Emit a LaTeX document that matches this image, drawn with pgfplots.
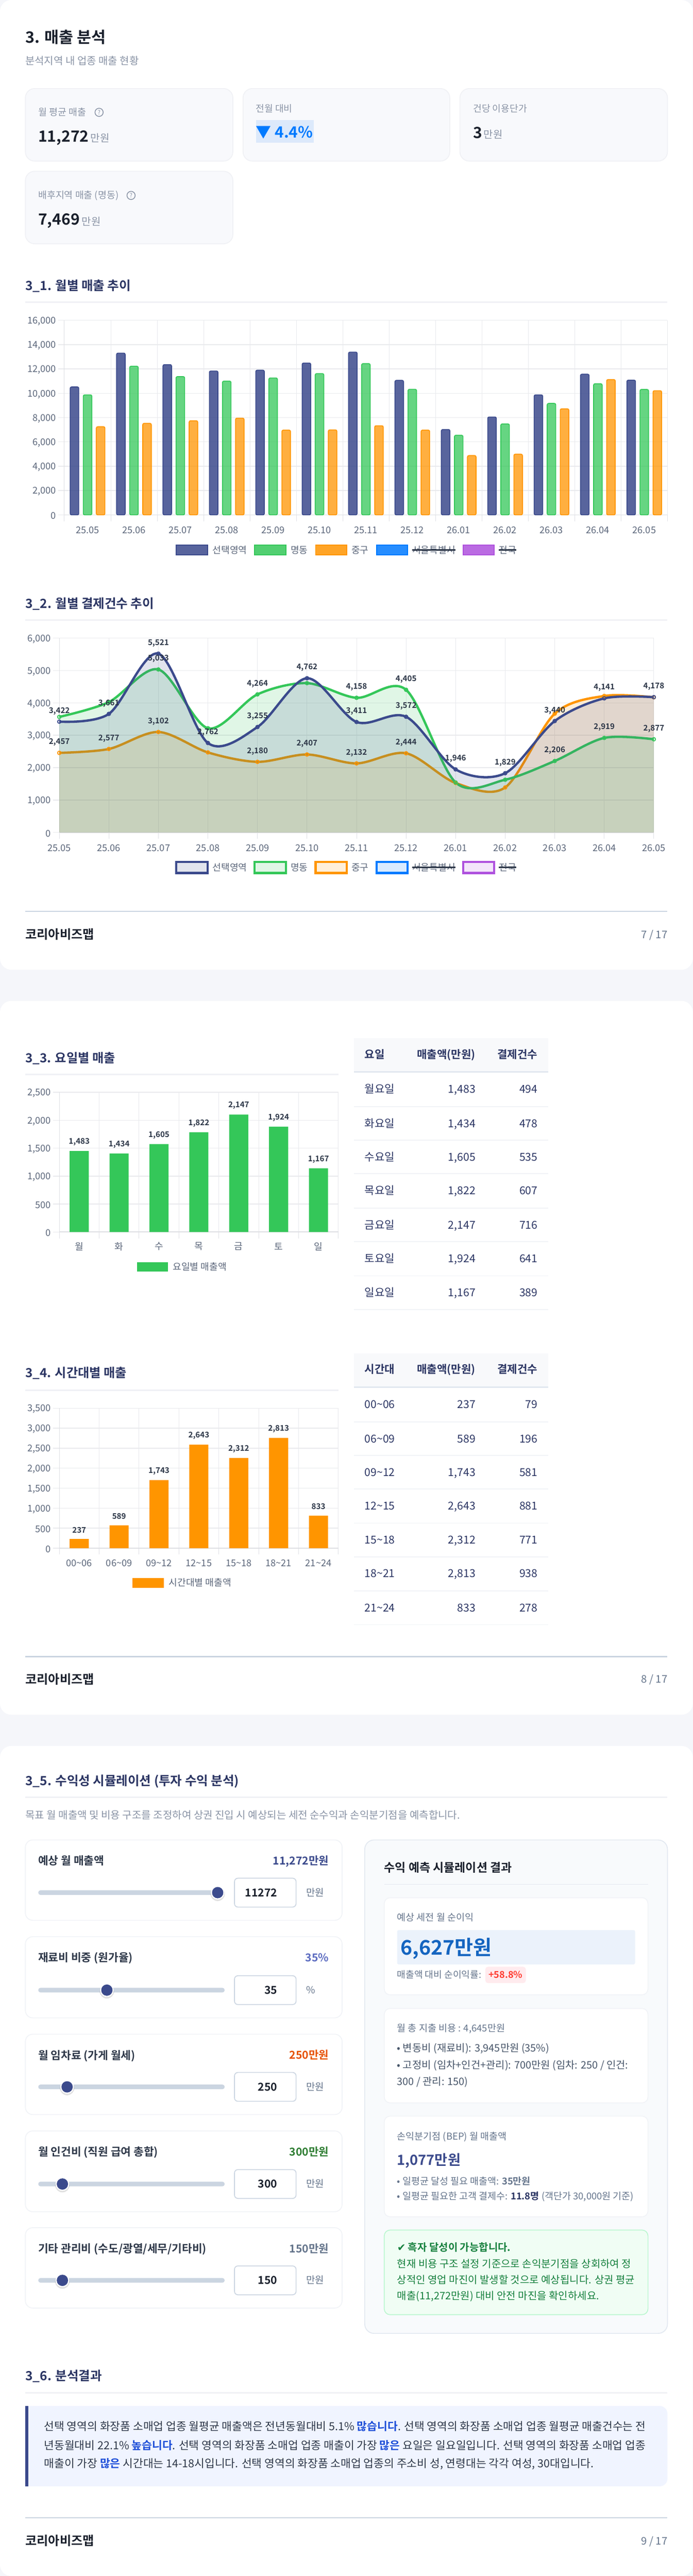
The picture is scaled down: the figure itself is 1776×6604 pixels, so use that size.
\documentclass[border=0pt]{standalone}
\usepackage{fontspec}
\usepackage{pgfplots}
\pgfplotsset{compat=1.18}
\setmainfont{Noto Sans CJK KR}[BoldFont={Noto Sans CJK KR Bold}]
\newfontfamily\djv{DejaVu Sans}
\newcommand{\fs}[1]{\fontsize{#1pt}{#1pt}\selectfont}
\definecolor{navy}{HTML}{3B4A8C}
\definecolor{grn}{HTML}{34C759}
\definecolor{org}{HTML}{FF9500}
\definecolor{blu}{HTML}{007AFF}
\definecolor{pur}{HTML}{AF52DE}
\definecolor{pagebg}{HTML}{F5F6FA}
\definecolor{kpibg}{HTML}{F8F9FC}
\definecolor{kpiln}{HTML}{F0F1F5}
\definecolor{ttl}{HTML}{2B3563}
\definecolor{blk}{HTML}{1A202C}
\definecolor{gry}{HTML}{8A94A6}
\definecolor{tick}{HTML}{5B667A}
\definecolor{slate}{HTML}{64748B}
\definecolor{lbl}{HTML}{2D3748}
\definecolor{ruleb}{HTML}{CBD5E1}
\definecolor{HeadLn}{HTML}{E2E8F0}
\definecolor{HL}{HTML}{DCE9FB}
\definecolor{Indi}{HTML}{5B6BC0}
\definecolor{Ora}{HTML}{E65100}
\definecolor{Gre}{HTML}{2E7D32}
\definecolor{F8}{HTML}{F8FAFC}
\definecolor{BlueL}{HTML}{EBF2FB}
\definecolor{Blu2}{HTML}{1565C0}
\definecolor{Pink}{HTML}{FFEBEE}
\definecolor{Red2}{HTML}{FF3B30}
\definecolor{G6}{HTML}{475569}
\definecolor{GrL}{HTML}{F0FDF4}
\definecolor{GrB}{HTML}{BBF7D0}
\definecolor{Gr3}{HTML}{15803D}
\definecolor{BoxB}{HTML}{F0F4FF}
\definecolor{Blu3}{HTML}{1D4ED8}
\definecolor{sepc}{HTML}{F1F3F7}
\definecolor{E6E7EB}{HTML}{E8E9ED}\definecolor{E9EAED}{HTML}{E9EAED}\definecolor{E0E1E6}{HTML}{E0E1E6}\definecolor{DADBE0}{HTML}{DEDFE3}
\newcommand{\tl}[5]{\node[anchor=base west,inner sep=0pt,outer sep=0pt,text=#4,font=\fs{#3}] at ({#1},{#2+0.36*#3}) {#5};}
\newcommand{\tr}[5]{\node[anchor=base east,inner sep=0pt,outer sep=0pt,text=#4,font=\fs{#3}] at ({#1},{#2+0.36*#3}) {#5};}
\newcommand{\tc}[5]{\node[anchor=base,inner sep=0pt,outer sep=0pt,text=#4,font=\fs{#3}] at ({#1},{#2+0.36*#3}) {#5};}
\newcommand{\card}[7]{\filldraw[fill=#6,draw=#7,line width=2.2pt,rounded corners=#5pt] (#1,#2) rectangle (#3,#4);}
\newcommand{\sect}[3]{\tl{65}{#1}{32.4}{ttl}{\bfseries #3}\fill[kpiln] (65,#2-2) rectangle (1711,#2+2);}
\newcommand{\sects}[3]{\tl{65}{#1}{32}{ttl}{\bfseries #3}\fill[kpiln] (65,#2-2) rectangle (868,#2+2);}
\newcommand{\foot}[3]{\fill[ruleb] (65,#1-1.5) rectangle (1711,#1+1.5);\tl{65}{#2}{32}{blk}{\bfseries 코리아비즈맵}\tr{1711}{#2}{26.8}{slate}{#3}}
\newcommand{\qm}[2]{\draw[gry,line width=2pt] (#1,#2) circle (10.5);\tc{#1}{#2}{15}{gry}{?}}
\newcommand{\slider}[9]{%
 \card{65}{#1}{877}{#2}{19}{white}{sepc}
 \tl{98}{#3}{28.3}{lbl}{\bfseries #4}\tr{843}{#3}{28}{#5}{\bfseries #6}
 \fill[ruleb!100,rounded corners=6pt] (98,#7-6) rectangle (576,#7+6);
 \fill[black,opacity=.12] (#8,#7+3) circle (18.5);
 \fill[white] (#8,#7) circle (17.5);\fill[navy] (#8,#7) circle (14.5);
 \filldraw[fill=white,draw=ruleb,line width=2.2pt,rounded corners=9pt] (601,#7-37) rectangle (759,#7+37);
 \tr{711}{#7}{28}{blk}{\bfseries #9}}
\newcommand{\legendrow}[2]{% y, mode
 \foreach \xa/\xb/\c in {452/532/navy,653/733/grn,809/889/org,965/1045/blu,1187/1267/pur}{
  \ifnum#2=0 \filldraw[fill=\c,fill opacity=.85,draw=\c,line width=2.4pt] (\xa,#1-12.5) rectangle (\xb,#1+12.5);
  \else \filldraw[fill=\c,fill opacity=.15,draw=\c,line width=5.5pt] (\xa,#1-14) rectangle (\xb,#1+14);\fi}
 \tl{545}{#1}{24}{tick}{선택영역}\tl{745}{#1}{24}{tick}{명동}\tl{901}{#1}{24}{tick}{중구}\tl{1057}{#1}{24}{tick}{서울특별시}\tl{1279}{#1}{24}{tick}{전국}
 \fill[lbl] (1057,#1-2) rectangle (1167,#1+2);\fill[lbl] (1279,#1-2) rectangle (1323,#1+2);}
\newcommand{\tblhead}[4]{\fill[pagebg!70!white] (908,#1) rectangle (1405,#2);\fill[HeadLn] (908,#2) rectangle (1405,#2+4);
 \tl{935}{#3}{28}{ttl}{\bfseries #4}\tr{1219}{#3}{28}{ttl}{\bfseries 매출액(만원)}\tr{1378}{#3}{28}{ttl}{\bfseries 결제건수}}
\pgfplotsset{
 myax/.style={scale only axis,anchor=south west,clip=false,axis lines=left,
  tick align=outside,major tick length=16pt,xmajorgrids,ymajorgrids,
  x grid style={draw=E6E7EB,line width=1.2pt},y grid style={draw=E9EAED,line width=1.9pt},
  xtick style={draw=E0E1E6,line width=1.2pt},ytick style={draw=E9EAED,line width=1.9pt},
  x axis line style={draw=DADBE0,line width=2.4pt,-},y axis line style={draw=DADBE0,line width=1.2pt,-},
  tick label style={font=\fs{24},text=tick},
  y tick label style={anchor=east,xshift=-2pt,yshift=-2.5pt},
  scaled y ticks=false,
  /pgf/number format/1000 sep={,},/pgf/number format/assume math mode=true,
 },
 mylab/.style={nodes near coords,point meta=explicit,
   every node near coord/.append style={font=\bfseries\fs{20},text=lbl,anchor=center,yshift=#1,inner sep=0pt}},
}
\begin{document}
\begin{tikzpicture}
\path[use as bounding box] (0,0) rectangle (1776pt,-6604pt);
\begin{scope}[x=1pt,y=-1pt]
\fill[pagebg] (0,0) rectangle (1776,6604);
\fill[white,rounded corners=29pt] (0,0) rectangle (1776,2486);
\fill[white,rounded corners=29pt] (0,2566) rectangle (1776,4396);
\fill[white,rounded corners=29pt] (0,4476) rectangle (1776,6604);
% header
\tl{65}{96}{40.2}{blk}{\bfseries 3. 매출 분석}
\tl{65}{156}{26.4}{gry}{분석지역 내 업종 매출 현황}
\card{65}{227}{597}{413}{24}{kpibg}{kpiln}
\card{623}{227}{1153}{413}{24}{kpibg}{kpiln}
\card{1179}{227}{1711}{413}{24}{kpibg}{kpiln}
\card{65}{439}{597}{625}{24}{kpibg}{kpiln}
\tl{98}{288}{24.3}{gry}{월 평균 매출}\qm{254}{288}
\tl{98}{349}{39.6}{blk}{\bfseries 11,272}\tl{232}{355}{26.4}{gry}{만원}
\tl{656}{279}{24}{gry}{전월 대비}
\fill[HL] (656,308) rectangle (804,366);
\tl{656}{339}{39.6}{blu}{\bfseries ▼ 4.4\%}
\tl{1213}{279}{24}{gry}{건당 이용단가}
\tl{1213}{340}{39.6}{blk}{\bfseries 3}\tl{1240}{345}{26.4}{gry}{만원}
\tl{98}{501}{24.3}{gry}{배후지역 매출 (명동)}\qm{336}{501}
\tl{98}{562}{39.6}{blk}{\bfseries 7,469}\tl{210}{568}{26.4}{gry}{만원}
% section titles
\sect{732}{775}{3\_1. 월별 매출 추이}
\legendrow{1410}{0}
\sect{1547}{1590}{3\_2. 월별 결제건수 추이}
\legendrow{2224}{1}
\foot{2336}{2396}{7 / 17}
\sects{2712}{2754}{3\_3. 요일별 매출}
\fill[grn] (351,3236) rectangle (431,3260);\tl{443}{3248}{24}{tick}{요일별 매출액}
\tblhead{2662}{2746}{2704}{요일}
\foreach \s in {2837,2923,3009,3097,3183,3271,3357}{\fill[sepc] (908,\s-1.2) rectangle (1405,\s+1.2);}
\foreach \y/\a/\b/\c in {2792/월요일/{1,483}/494,2880/화요일/{1,434}/478,2966/수요일/{1,605}/535,3052/목요일/{1,822}/607,3140/금요일/{2,147}/716,3226/토요일/{1,924}/641,3314/일요일/{1,167}/389}{
 \tl{935}{\y}{28}{ttl}{\a}\tr{1219}{\y}{28}{ttl}{\b}\tr{1378}{\y}{28}{ttl}{\c}}
\sects{3520}{3564}{3\_4. 시간대별 매출}
\fill[org] (340,4046) rectangle (420,4070);\tl{433}{4058}{24}{tick}{시간대별 매출액}
\tblhead{3470}{3554}{3511}{시간대}
\foreach \s in {3645,3731,3817.5,3905,3991,4079,4165}{\fill[sepc] (908,\s-1.2) rectangle (1405,\s+1.2);}
\foreach \y/\a/\b/\c in {3600/00\textasciitilde06/237/79,3689/06\textasciitilde09/589/196,3774/09\textasciitilde12/{1,743}/581,3860/12\textasciitilde15/{2,643}/881,3948/15\textasciitilde18/{2,312}/771,4034/18\textasciitilde21/{2,813}/938,4122/21\textasciitilde24/833/278}{
 \tl{935}{\y}{28}{ttl}{\a}\tr{1219}{\y}{28}{ttl}{\b}\tr{1378}{\y}{28}{ttl}{\c}}
\foot{4247}{4305}{8 / 17}
% 3_5
\sect{4565}{4607}{3\_5. 수익성 시뮬레이션 (투자 수익 분석)}
\tl{65}{4653.5}{26.5}{gry}{목표 월 매출액 및 비용 구조를 조정하여 상권 진입 시 예상되는 세전 순수익과 손익분기점을 예측합니다.}
\slider{4717}{4923}{4771}{예상 월 매출액}{navy}{11,272만원}{4852}{558}{11272}
\tl{785}{4852}{25}{slate}{만원}
\slider{4965}{5173}{5019}{재료비 비중 (원가율)}{Indi}{35\%}{5102}{274}{35}
\tl{785}{5102}{25}{slate}{\%}
\slider{5215}{5421}{5269}{월 임차료 (가게 월세)}{Ora}{250만원}{5350}{172}{250}
\tl{785}{5350}{25}{slate}{만원}
\slider{5463}{5670}{5517}{월 인건비 (직원 급여 총합)}{Gre}{300만원}{5599}{160}{300}
\tl{785}{5599}{25}{slate}{만원}
\slider{5711}{5917}{5765}{기타 관리비 (수도/광열/세무/기타비)}{slate}{150만원}{5846}{160}{150}
\tl{785}{5846}{25}{slate}{만원}
% right panel
\card{935}{4717}{1711}{5982}{24}{F8}{HeadLn}
\tl{985}{4788}{30.3}{blk}{\bfseries 수익 예측 시뮬레이션 결과}
\fill[HeadLn] (985,4830) rectangle (1662,4832);
\card{985}{4865}{1661}{5114}{15}{white}{sepc}
\tl{1018}{4916}{24.4}{slate}{예상 세전 월 순이익}
\fill[BlueL,rounded corners=4pt] (1018,4948) rectangle (1628,5036);
\tl{1027}{4993}{51.8}{Blu2}{\bfseries 6,627만원}
\tl{1018}{5062}{24}{slate}{매출액 대비 순이익률:}
\fill[Pink,rounded corners=7pt] (1244,5042) rectangle (1348,5084);
\tc{1296}{5063}{24}{Red2}{\bfseries +58.8\%}
\card{985}{5149}{1661}{5391}{15}{white}{sepc}
\tl{1018}{5200}{24.4}{slate}{월 총 지출 비용 : 4,645만원}
\tl{1018}{5251}{26.3}{G6}{• 변동비 (재료비): 3,945만원 (35\%)}
\tl{1018}{5294}{26.3}{G6}{• 고정비 (임차+인건+관리): 700만원 (임차: 250 / 인건:}
\tl{1018}{5336}{26.3}{G6}{300 / 관리: 150)}
\card{985}{5425}{1661}{5683}{15}{white}{sepc}
\tl{1018}{5477}{24.4}{slate}{손익분기점 (BEP) 월 매출액}
\tl{1018}{5537}{36}{navy}{\bfseries 1,077만원}
\tl{1018}{5592}{24.4}{slate}{• 일평균 달성 필요 매출액: \textbf{35만원}}
\tl{1018}{5630}{24.4}{slate}{• 일평균 필요한 고객 결제수: {\color{ttl}\textbf{11.8명}} (객단가 30,000원 기준)}
\card{985}{5717}{1661}{5934}{15}{GrL}{GrB}
\tl{1018}{5762}{26.4}{Gr3}{{\djv\bfseries ✔} \bfseries 흑자 달성이 가능합니다.}
\tl{1018}{5803.5}{26.4}{Gr3}{현재 비용 구조 설정 기준으로 손익분기점을 상회하여 정}
\tl{1018}{5845}{26.4}{Gr3}{상적인 영업 마진이 발생할 것으로 예상됩니다. 상권 평균}
\tl{1018}{5886}{26.4}{Gr3}{매출(11,272만원) 대비 안전 마진을 확인하세요.}
% 3_6
\sect{6090.5}{6134}{3\_6. 분석결과}
\fill[BoxB,rounded corners=20pt] (65,6168) rectangle (1711,6374);
\fill[BoxB] (65,6168) rectangle (110,6374);
\fill[navy] (65,6168) rectangle (73,6374);
\newcommand{\hlt}[1]{{\color{Blu3}\bfseries #1}}
\tl{113}{6221}{28.4}{lbl}{선택 영역의 화장품 소매업 업종 월평균 매출액은 전년동월대비 5.1\% \hlt{많습니다}. 선택 영역의 화장품 소매업 업종 월평균 매출건수는 전}
\tl{113}{6269}{28.4}{lbl}{년동월대비 22.1\% \hlt{높습니다}. 선택 영역의 화장품 소매업 업종 매출이 가장 \hlt{많은} 요일은 일요일입니다. 선택 영역의 화장품 소매업 업종}
\tl{113}{6316}{28.4}{lbl}{매출이 가장 \hlt{많은} 시간대는 14-18시입니다. 선택 영역의 화장품 소매업 업종의 주소비 성, 연령대는 각각 여성, 30대입니다.}
\foot{6455}{6514}{9 / 17}
\end{scope}
% ---- chart 1
\begin{axis}[myax,at={(165pt,-1320pt)},width=1546pt,height=499pt,xmin=-0.5,xmax=12.5,ymin=0,ymax=16000,
 xtick={-0.5,0.5,...,12.5},xticklabels={25.05,25.06,25.07,25.08,25.09,25.10,25.11,25.12,26.01,26.02,26.03,26.04,26.05,{}},
 x tick label style={anchor=center,xshift=59.46pt,yshift=-23pt},ytick={0,2000,...,16000}]
\addplot[ybar,bar width=22pt,bar shift=-33.5pt,fill=navy,fill opacity=.85,draw=navy,line width=2.2pt,rounded corners=3.5pt] coordinates {(0,10519)(1,13300)(2,12352)(3,11828)(4,11894)(5,12483)(6,13383)(7,11059)(8,7018)(9,8049)(10,9865)(11,11566)(12,11076)};
\addplot[ybar,bar width=22pt,bar shift=0pt,fill=grn,fill opacity=.75,draw=grn,line width=2.2pt,rounded corners=3.5pt] coordinates {(0,9865)(1,12221)(2,11370)(3,10994)(4,11256)(5,11616)(6,12434)(7,10323)(8,6544)(9,7477)(10,9162)(11,10781)(12,10307)};
\addplot[ybar,bar width=22pt,bar shift=33.5pt,fill=org,fill opacity=.75,draw=org,line width=2.2pt,rounded corners=3.5pt] coordinates {(0,7247)(1,7526)(2,7738)(3,7951)(4,6969)(5,6986)(6,7329)(7,6969)(8,4875)(9,4990)(10,8720)(11,11125)(12,10209)};
\end{axis}
% ---- chart 2
\begin{axis}[myax,at={(152pt,-2134pt)},width=1524pt,height=498pt,xmin=0,xmax=12,ymin=0,ymax=6000,
 xtick={0,...,12},xticklabels={25.05,25.06,25.07,25.08,25.09,25.10,25.11,25.12,26.01,26.02,26.03,26.04,26.05},
 x tick label style={anchor=center,yshift=-24pt},ytick={0,1000,...,6000}]
\addplot[draw=none,fill=org,fill opacity=.15,smooth,tension=.52] coordinates {(0,2457)(1,2577)(2,3102)(3,2471)(4,2180)(5,2407)(6,2132)(7,2444)(8,1527)(9,1389)(10,3668)(11,4215)(12,4174)} \closedcycle;
\addplot[org,line width=6pt,smooth,tension=.52,mark=*,mark size=4.5pt,mark options={fill=org,fill opacity=.15,draw=org,line width=2.2pt}] coordinates {(0,2457)(1,2577)(2,3102)(3,2471)(4,2180)(5,2407)(6,2132)(7,2444)(8,1527)(9,1389)(10,3668)(11,4215)(12,4174)};
\addplot[draw=none,fill=grn,fill opacity=.15,smooth,tension=.52] coordinates {(0,3568)(1,4025)(2,5033)(3,3217)(4,4264)(5,4611)(6,4158)(7,4405)(8,1542)(9,1627)(10,2206)(11,2919)(12,2877)} \closedcycle;
\addplot[grn,line width=6pt,smooth,tension=.52,mark=*,mark size=4.5pt,mark options={fill=grn,fill opacity=.15,draw=grn,line width=2.2pt}] coordinates {(0,3568)(1,4025)(2,5033)(3,3217)(4,4264)(5,4611)(6,4158)(7,4405)(8,1542)(9,1627)(10,2206)(11,2919)(12,2877)};
\addplot[draw=none,fill=navy,fill opacity=.15,smooth,tension=.52] coordinates {(0,3422)(1,3661)(2,5521)(3,2762)(4,3255)(5,4762)(6,3411)(7,3572)(8,1946)(9,1829)(10,3440)(11,4141)(12,4178)} \closedcycle;
\addplot[navy,line width=6pt,smooth,tension=.52,mark=*,mark size=4.5pt,mark options={fill=navy,fill opacity=.15,draw=navy,line width=2.2pt}] coordinates {(0,3422)(1,3661)(2,5521)(3,2762)(4,3255)(5,4762)(6,3411)(7,3572)(8,1946)(9,1829)(10,3440)(11,4141)(12,4178)};
\addplot[draw=none,mark=none,mylab=27pt] coordinates {(0,3422)[3422](1,3661)[3661](2,5521)[5521](3,2762)[2762](4,3255)[3255](5,4762)[4762](6,3411)[3411](7,3572)[3572](8,1946)[1946](9,1829)[1829](10,3440)[3440](11,4141)[4141](12,4178)[4178]};
\addplot[draw=none,mark=none,mylab=27pt] coordinates {(2,5033)[5033](4,4264)[4264](6,4158)[4158](7,4405)[4405](10,2206)[2206](11,2919)[2919](12,2877)[2877]};
\addplot[draw=none,mark=none,mylab=27pt] coordinates {(0,2457)[2457](1,2577)[2577](2,3102)[3102](4,2180)[2180](5,2407)[2407](6,2132)[2132](7,2444)[2444]};
\end{axis}
% ---- chart 3
\begin{axis}[myax,at={(152pt,-3158.5pt)},width=715.5pt,height=358.5pt,xmin=-0.5,xmax=6.5,ymin=0,ymax=2500,
 xtick={-0.5,0.5,...,6.5},xticklabels={월,화,수,목,금,토,일,{}},
 x tick label style={anchor=center,xshift=51.1pt,yshift=-21pt},ytick={0,500,...,2500}]
\addplot[ybar,bar width=49pt,fill=grn,draw=none,mylab=23pt] coordinates {(0,1448)[1483](1,1404)[1434](2,1572)[1605](3,1784)[1822](4,2100)[2147](5,1884)[1924](6,1140)[1167]};
\end{axis}
% ---- chart 4
\begin{axis}[myax,at={(152pt,-3969pt)},width=715.5pt,height=359pt,xmin=-0.5,xmax=6.5,ymin=0,ymax=3500,
 xtick={-0.5,0.5,...,6.5},xticklabels={00\textasciitilde06,06\textasciitilde09,09\textasciitilde12,12\textasciitilde15,15\textasciitilde18,18\textasciitilde21,21\textasciitilde24,{}},
 x tick label style={anchor=center,xshift=51.1pt,yshift=-22pt},ytick={0,500,...,3500}]
\addplot[ybar,bar width=49pt,fill=org,draw=none,mylab=23pt] coordinates {(0,230)[237](1,572)[589](2,1703)[1743](3,2586)[2643](4,2257)[2312](5,2754)[2813](6,814)[833]};
\end{axis}
\end{tikzpicture}
\end{document}
